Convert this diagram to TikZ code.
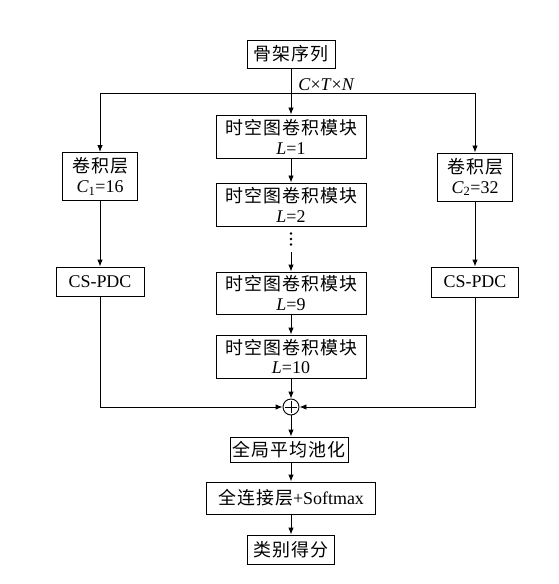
\documentclass[tikz,border=0pt]{standalone}
\usepackage{fontspec}
\setmainfont{Liberation Serif}
\newfontfamily\cjk[LetterSpace=6]{Noto Sans CJK SC}
\usetikzlibrary{arrows.meta}
\begin{document}
\begin{tikzpicture}[x=1bp,y=-1bp,
  box/.style={draw,line width=0.9bp,inner sep=0pt,align=center,font=\fontsize{18}{20}\selectfont},
  link/.style={line width=0.9bp},
  arr/.style={link,-{Latex[length=7bp,width=5.5bp]}},
  vdotsbox/.style={minimum width=4bp,minimum height=14bp,inner sep=0pt,
    path picture={
      \fill ([yshift=-1.5bp]path picture bounding box.north) circle (1.3bp);
      \fill (path picture bounding box.center) circle (1.3bp);
      \fill ([yshift=1.5bp]path picture bounding box.south) circle (1.3bp);}}]
\useasboundingbox (0,0) rectangle (559,584);
\fill[white] (0,0) rectangle (559,584);
% main column
\node[box,minimum width=88bp,minimum height=28bp] (seq) at (291,54) {{\cjk 骨架序列}};
\node[box,minimum width=150bp,minimum height=43bp] (st1) at (291,136.5) {{\cjk 时空图卷积模块}\\\textit{L}=1};
\node[box,minimum width=150bp,minimum height=43bp] (st2) at (291,204.5) {{\cjk 时空图卷积模块}\\\textit{L}=2};
\node[vdotsbox] (dots) at (291,239) {};
\node[box,minimum width=150bp,minimum height=42bp] (st9) at (291,293) {{\cjk 时空图卷积模块}\\\textit{L}=9};
\node[box,minimum width=150bp,minimum height=43bp] (st10) at (291,356.5) {{\cjk 时空图卷积模块}\\\textit{L}=10};
\node[circle,draw,line width=0.9bp,minimum size=16bp,inner sep=0pt] (sum) at (291,407) {};
\draw[line width=0.9bp] ([yshift=-2bp]sum.north) -- ([yshift=2bp]sum.south);
\draw[line width=0.9bp] ([xshift=2bp]sum.west) -- ([xshift=-2bp]sum.east);
\node[box,minimum width=118bp,minimum height=25bp] (pool) at (289,449.5) {{\cjk 全局平均池化}};
\node[box,minimum width=169bp,minimum height=32bp] (fc) at (291,498) {{\cjk 全连接层}+Softmax};
\node[box,minimum width=87bp,minimum height=29bp] (cls) at (291,549.5) {{\cjk 类别得分}};
% side columns
\node[box,minimum width=75bp,minimum height=48bp] (lconv) at (100,176.5) {{\cjk 卷积层}\\\textit{C}\textsubscript{1}=16};
\node[box,minimum width=88bp,minimum height=29bp] (lcs) at (100,281.5) {CS-PDC};
\node[box,minimum width=75bp,minimum height=48bp] (rconv) at (475,177) {{\cjk 卷积层}\\\textit{C}\textsubscript{2}=32};
\node[box,minimum width=87bp,minimum height=30bp] (rcs) at (475,282) {CS-PDC};
\coordinate (lsplit) at (100,93);
\coordinate (rsplit) at (475,93);
% connectors
\draw[arr] (seq) -- (st1) node[pos=0.36,anchor=west,inner sep=0pt,xshift=7bp,font=\fontsize{18}{20}\selectfont] (dims) {\textit{C}×\textit{T}×\textit{N}};
\draw[link] (lsplit) -- (rsplit);
\draw[arr] (lsplit) -- (lconv);
\draw[arr] (rsplit) -- (rconv);
\draw[arr] (lconv) -- (lcs);
\draw[arr] (rconv) -- (rcs);
\draw[arr] (st1) -- (st2);
\draw[arr] ([yshift=-6bp]dots.south) -- (st9);
\draw[arr] (st9) -- (st10);
\draw[arr] (st10) -- (sum);
\draw[arr] (lcs.south) |- (sum.west);
\draw[arr] (rcs.south) |- (sum.east);
\draw[arr] (sum) -- (pool.north -| sum);
\draw[arr] (pool.south -| sum) -- (fc);
\draw[arr] (fc) -- (cls);
\end{tikzpicture}
\end{document}
